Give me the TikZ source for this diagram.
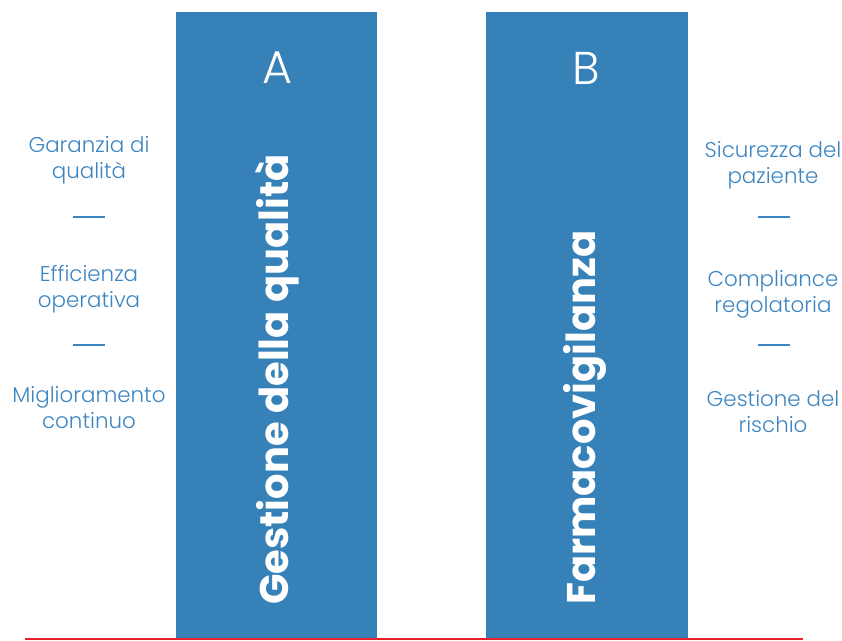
\documentclass[tikz,border=0pt]{standalone}
\usepackage{fontspec}
\setmainfont{Poppins}
\newfontfamily\poplight{Poppins Light}
\definecolor{barblue}{HTML}{3581B8}
\definecolor{txtblue}{HTML}{3D85C1}
\definecolor{redline}{HTML}{E8202A}
\begin{document}
\begin{tikzpicture}[x=1pt,y=-1pt,
  bar/.style={fill=barblue,draw=none},
  letter/.style={text=white,font=\poplight\fontsize{46}{46}\selectfont,inner sep=0pt},
  vtitle/.style={text=white,font=\bfseries\fontsize{40}{40}\selectfont,rotate=90,anchor=west,inner sep=0pt},
  side/.style={text=txtblue,font=\poplight\fontsize{21.4}{26}\selectfont,align=center,inner sep=0pt},
  sep/.style={draw=txtblue,line width=1.3pt}]
\useasboundingbox (0,0) rectangle (842,640);
\fill[bar] (176,12) rectangle (377,638);
\fill[bar] (486,12) rectangle (688,638);
\node[letter] (la) at (277,68) {A};
\node[letter] (lb) at (586,68) {B};
\node[vtitle] (ta) at (277,605) {Gestione della qualità};
\node[vtitle] (tb) at (585,605) {Farmacovigilanza};
\node[side] (l1) at (89,160) {Garanzia di\\qualità};
\node[side] (l2) at (89,289) {Efficienza\\operativa};
\node[side] (l3) at (89,408) {Miglioramento\\continuo};
\node[side] (r1) at (773,165) {Sicurezza del\\paziente};
\node[side] (r2) at (773,294) {Compliance\\regolatoria};
\node[side] (r3) at (773,412) {Gestione del\\rischio};
\draw[sep] (73,217) -- (105,217);
\draw[sep] (73,345) -- (105,345);
\draw[sep] (758,217) -- (790,217);
\draw[sep] (758,345) -- (790,345);
\draw[draw=redline,line width=2.2pt] (25,638.8) -- (803,638.8);
\end{tikzpicture}
\end{document}
